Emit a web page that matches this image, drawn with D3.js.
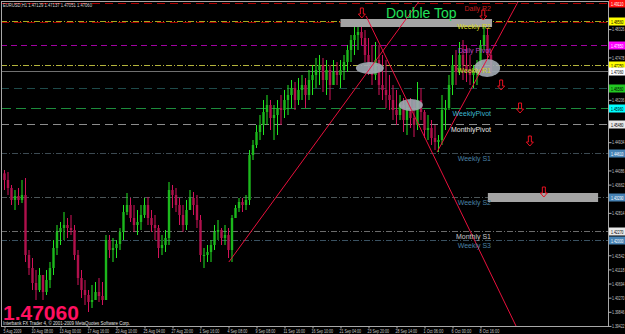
<!DOCTYPE html>
<html>
<head>
<meta charset="utf-8">
<script src="https://cdn.jsdelivr.net/npm/d3@7"></script>
<style>
html, body { margin: 0; padding: 0; background: #000; }
svg { display: block; font-family: Arial, "Liberation Sans", sans-serif; }
</style>
</head>
<body>
<svg width="625" height="334"></svg>
<script>
// EURUSD, bars of 8 hours
const firstOpen = 1.4400;
const highs = [
    1.4410,1.4404,1.4365,1.4350,1.4356,1.4380,1.4386,1.4170,1.4146,1.4110,
    1.4116,1.4095,1.4110,1.4134,1.4200,1.4245,1.4254,1.4284,1.4266,1.4275,
    1.4245,1.4170,1.4110,1.4080,1.4050,1.4065,1.4074,1.4086,1.4074,1.4215,
    1.4215,1.4206,1.4200,1.4236,1.4305,1.4341,1.4326,1.4305,1.4290,1.4305,
    1.4326,1.4329,1.4290,1.4275,1.4245,1.4215,1.4230,1.4374,1.4365,1.4356,
    1.4326,1.4305,1.4320,1.4350,1.4344,1.4335,1.4275,1.4176,1.4185,1.4200,
    1.4245,1.4260,1.4236,1.4245,1.4236,1.4275,1.4305,1.4326,1.4326,1.4335,
    1.4470,1.4500,1.4545,1.4575,1.4620,1.4635,1.4620,1.4605,1.4620,1.4635,
    1.4650,1.4665,1.4680,1.4674,1.4686,1.4695,1.4686,1.4710,1.4725,1.4746,
    1.4755,1.4746,1.4740,1.4725,1.4740,1.4734,1.4740,1.4755,1.4785,1.4815,
    1.4839,1.4845,1.4857,1.4830,1.4806,1.4785,1.4794,1.4785,1.4755,1.4740,
    1.4695,1.4665,1.4650,1.4635,1.4626,1.4620,1.4626,1.4620,1.4674,1.4656,
    1.4590,1.4575,1.4560,1.4545,1.4515,1.4635,1.4620,1.4695,1.4755,1.4770,
    1.4794,1.4800,1.4785,1.4755,1.4725,1.4740,1.4800,1.4854,1.4836,1.4770
];
const lows = [
    1.4350,1.4335,1.4305,1.4290,1.4305,1.4311,1.4134,1.4095,1.4050,1.4020,
    1.4044,1.4020,1.4035,1.4056,1.4095,1.4155,1.4185,1.4200,1.4206,1.4215,
    1.4140,1.4065,1.4026,1.4005,1.3984,1.3996,1.4020,1.4014,1.4005,1.4020,
    1.4146,1.4134,1.4146,1.4170,1.4200,1.4275,1.4254,1.4224,1.4215,1.4230,
    1.4266,1.4245,1.4224,1.4200,1.4146,1.4155,1.4164,1.4185,1.4296,1.4284,
    1.4245,1.4224,1.4230,1.4290,1.4275,1.4236,1.4134,1.4116,1.4134,1.4134,
    1.4170,1.4200,1.4185,1.4185,1.4146,1.4134,1.4266,1.4284,1.4284,1.4290,
    1.4305,1.4440,1.4476,1.4500,1.4515,1.4545,1.4530,1.4500,1.4515,1.4545,
    1.4566,1.4575,1.4596,1.4590,1.4605,1.4620,1.4596,1.4620,1.4635,1.4656,
    1.4665,1.4644,1.4635,1.4620,1.4674,1.4665,1.4656,1.4680,1.4704,1.4734,
    1.4755,1.4770,1.4785,1.4734,1.4695,1.4665,1.4680,1.4635,1.4620,1.4596,
    1.4590,1.4560,1.4545,1.4560,1.4524,1.4515,1.4536,1.4509,1.4530,1.4560,
    1.4506,1.4500,1.4485,1.4470,1.4464,1.4485,1.4530,1.4590,1.4635,1.4665,
    1.4695,1.4680,1.4674,1.4665,1.4656,1.4665,1.4710,1.4770,1.4740,1.4695
];
const closes = [
    1.4380,1.4356,1.4320,1.4332,1.4320,1.4335,1.4155,1.4116,1.4071,1.4050,
    1.4095,1.4044,1.4080,1.4116,1.4176,1.4224,1.4236,1.4245,1.4236,1.4230,
    1.4155,1.4086,1.4050,1.4035,1.4014,1.4020,1.4044,1.4032,1.4020,1.4200,
    1.4170,1.4176,1.4188,1.4224,1.4284,1.4305,1.4266,1.4245,1.4254,1.4275,
    1.4305,1.4266,1.4245,1.4236,1.4176,1.4185,1.4206,1.4350,1.4335,1.4305,
    1.4275,1.4245,1.4290,1.4326,1.4305,1.4260,1.4155,1.4155,1.4164,1.4185,
    1.4224,1.4230,1.4206,1.4215,1.4170,1.4266,1.4296,1.4314,1.4305,1.4320,
    1.4455,1.4485,1.4524,1.4545,1.4584,1.4605,1.4566,1.4575,1.4596,1.4590,
    1.4620,1.4635,1.4656,1.4620,1.4650,1.4665,1.4635,1.4680,1.4695,1.4710,
    1.4725,1.4680,1.4710,1.4665,1.4704,1.4695,1.4710,1.4734,1.4770,1.4800,
    1.4815,1.4824,1.4806,1.4755,1.4725,1.4695,1.4740,1.4665,1.4650,1.4635,
    1.4620,1.4590,1.4575,1.4605,1.4560,1.4590,1.4566,1.4545,1.4620,1.4584,
    1.4530,1.4536,1.4506,1.4494,1.4500,1.4590,1.4596,1.4665,1.4725,1.4704,
    1.4755,1.4725,1.4710,1.4695,1.4704,1.4716,1.4785,1.4815,1.4755,1.4706
];

const symbol = "EURUSD,H1";
const lastQuote = [1.47129, 1.47137, 1.47051, 1.47060];

const timeLabels = ["5 Aug 2009", "10 Aug 08:00", "13 Aug 00:00", "17 Aug 16:00", "20 Aug 10:00",
    "25 Aug 04:00", "27 Aug 20:00", "1 Sep 16:00", "4 Sep 08:00", "9 Sep 08:00", "11 Sep 16:00",
    "16 Sep 10:00", "21 Sep 04:00", "23 Sep 20:00", "28 Sep 14:00", "1 Oct 06:00", "6 Oct 00:00",
    "8 Oct 16:00"];
const barsPerLabel = 8;

const priceTicks = [1.48750, 1.48326, 1.47902, 1.47478, 1.47054, 1.46630, 1.46206, 1.45782,
    1.45358, 1.44934, 1.44510, 1.44086, 1.43662, 1.43238, 1.42814, 1.42390, 1.41966, 1.41542,
    1.41118, 1.40694, 1.40270, 1.39846, 1.39422];

// pivot levels
const levelNames = ["Daily R2", "Daily R1", "Weekly R2", "Daily Pivot", "Weekly R1", "Daily S1",
    "WeeklyPivot", "MonthlyPivot", "Weekly S1", "Weekly S2", "Monthly S1", "Weekly S3"];
const levelValues = [1.4911, 1.4854, 1.4856, 1.4785, 1.4725, 1.4656, 1.4596, 1.4548, 1.4461,
    1.4329, 1.4227, 1.4200];

// hand drawn objects (bar index, price)
const zoneStart = [96, 138.1];
const zoneEnd = [139.3, 169.6];
const zoneHigh = [1.4863, 1.4341];
const zoneLow = [1.4839, 1.4314];

const ellipseBar = [104.4, 116.1, 137.9];
const ellipsePrice = [1.4716, 1.4605, 1.4716];

const trendFromBar = [64.1, 103.3, 123.6];
const trendFromPrice = [1.4134, 1.4872, 1.4464];
const trendToBar = [118.7, 146.7, 147];
const trendToPrice = [1.4920, 1.3930, 1.4920];

const arrowBar = [102.1, 136.8, 141.9, 147.3, 150.1, 154.1];
const arrowPrice = [1.4866, 1.4860, 1.4650, 1.4581, 1.4482, 1.4329];

const noteText = "Double Top";
const noteBar = 109;
const notePrice = 1.4866;

// styles
const plot = { left: 1, top: 1, right: 608, bottom: 326 };
const upColor = "#22e622";
const downColor = "#d3125a";
const trendColor = "#e8103c";
const ellipseRx = [14, 12, 13];
const ellipseRy = [6, 6, 9];
const levelStyle = {
    "Daily R2":     { stroke: "#b00000", dash: "8 5", text: "#c81e1e", box: "#ff1010", boxText: "#fff" },
    "Daily R1":     { stroke: "#a00000", dash: "8 5", text: null, box: null },
    "Weekly R2":    { stroke: "#a8a81e", dash: "6 2 1 2", text: "#d8d820", box: "#ffff00", boxText: "#000" },
    "Daily Pivot":  { stroke: "#a000a0", dash: "6 4", text: "#c040c8", box: "#ff00ff", boxText: "#fff" },
    "Weekly R1":    { stroke: "#b4b43c", dash: "6 2 1 2", text: "#d0d028", box: "#ffff00", boxText: "#000" },
    "Daily S1":     { stroke: "#1e4a4a", dash: "8 5", text: null, box: "#22c822", boxText: "#000" },
    "WeeklyPivot":  { stroke: "#1c8c3c", dash: "10 5", text: "#3cb8d0", box: "#00ffff", boxText: "#000" },
    "MonthlyPivot": { stroke: "#8c8c8c", dash: "8 5", text: "#e6e6e6", box: "#e8e8e8", boxText: "#000" },
    "Weekly S1":    { stroke: "#3c4a52", dash: "6 2 1 2", text: "#4a80a4", box: "#4682b4", boxText: "#fff" },
    "Weekly S2":    { stroke: "#4c5658", dash: "6 2 1 2", text: "#4a80a4", box: "#4682b4", boxText: "#fff" },
    "Monthly S1":   { stroke: "#6c6c6c", dash: "6 2 1 2", text: "#c8c8c8", box: "#e8e8e8", boxText: "#000" },
    "Weekly S3":    { stroke: "#3a5262", dash: "6 2 1 2", text: "#4a80a4", box: "#4682b4", boxText: "#fff" }
};

const x = d3.scaleLinear([0, 172], [4.5, 606.5]);
const y = d3.scaleLinear([1.392, 1.492], [1000 / 3, 0]);
const fmt5 = d3.format(".5f");
const lastClose = closes[closes.length - 1];

// prices that get a coloured box on the price scale
const boxedValues = levelNames
    .map((name, i) => ({ name, v: levelValues[i] }))
    .filter(d => levelStyle[d.name].box)
    .concat([{ name: "bid", v: lastClose }]);

const svg = d3.select("svg");

svg.append("defs").append("clipPath").attr("id", "plot-clip")
    .append("rect")
    .attr("x", plot.left).attr("y", plot.top)
    .attr("width", plot.right - plot.left).attr("height", plot.bottom - plot.top);

svg.append("rect").attr("width", 625).attr("height", 334).attr("fill", "#000");

const levelLines = selection => {
    const g = selection.append("g").attr("clip-path", "url(#plot-clip)");
    g.selectAll("line")
        .data(levelNames.map((name, i) => ({ name, v: levelValues[i] })))
        .join("line")
        .attr("x1", plot.left).attr("x2", plot.right)
        .attr("y1", d => Math.round(y(d.v)) + 0.5).attr("y2", d => Math.round(y(d.v)) + 0.5)
        .attr("stroke", d => levelStyle[d.name].stroke)
        .attr("stroke-dasharray", d => levelStyle[d.name].dash);
    // bid line
    g.append("line")
        .attr("x1", plot.left).attr("x2", plot.right)
        .attr("y1", Math.round(y(lastClose)) + 0.5).attr("y2", Math.round(y(lastClose)) + 0.5)
        .attr("stroke", "#707070");
}

const candles = selection => {
    const bars = closes.map((c, i) => ({
        i, c, h: highs[i], l: lows[i], o: i ? closes[i - 1] : firstOpen
    }));
    const g = selection.append("g").attr("clip-path", "url(#plot-clip)");
    g.selectAll("line")
        .data(bars)
        .join("line")
        .attr("x1", d => x(d.i)).attr("x2", d => x(d.i))
        .attr("y1", d => y(Math.max(d.h, d.o, d.c)))
        .attr("y2", d => y(Math.min(d.l, d.o, d.c)))
        .attr("stroke", d => d.c >= d.o ? upColor : downColor);
    g.selectAll("rect")
        .data(bars)
        .join("rect")
        .attr("x", d => x(d.i) - 1.2)
        .attr("width", 2.4)
        .attr("y", d => y(Math.max(d.o, d.c)))
        .attr("height", d => Math.max(1, Math.abs(y(d.o) - y(d.c))))
        .attr("fill", d => d.c >= d.o ? "#1cb81c" : "#b0104c");
}

const zones = selection => {
    selection.append("g").attr("clip-path", "url(#plot-clip)")
        .selectAll("rect")
        .data(zoneStart.map((s, i) => i))
        .join("rect")
        .attr("x", i => x(zoneStart[i]))
        .attr("width", i => x(zoneEnd[i]) - x(zoneStart[i]))
        .attr("y", i => y(zoneHigh[i]))
        .attr("height", i => y(zoneLow[i]) - y(zoneHigh[i]))
        .attr("fill", "#a4a4a4");
}

const ellipses = selection => {
    selection.append("g")
        .selectAll("ellipse")
        .data(ellipseBar.map((b, i) => i))
        .join("ellipse")
        .attr("cx", i => x(ellipseBar[i]))
        .attr("cy", i => y(ellipsePrice[i]))
        .attr("rx", i => ellipseRx[i])
        .attr("ry", i => ellipseRy[i])
        .attr("fill", "#a2abb4")
        .attr("fill-opacity", 0.9);
}

const trendLines = selection => {
    selection.append("g").attr("clip-path", "url(#plot-clip)")
        .selectAll("line")
        .data(trendFromBar.map((b, i) => i))
        .join("line")
        .attr("x1", i => x(trendFromBar[i])).attr("y1", i => y(trendFromPrice[i]))
        .attr("x2", i => x(trendToBar[i])).attr("y2", i => y(trendToPrice[i]))
        .attr("stroke", trendColor)
        .attr("stroke-width", 1);
}

const arrows = selection => {
    selection.append("g")
        .selectAll("path")
        .data(arrowBar.map((b, i) => i))
        .join("path")
        .attr("transform", i => `translate(${x(arrowBar[i])},${y(arrowPrice[i])})`)
        .attr("d", "M0,0 L-3.5,-4 L-1.5,-4 L-1.5,-10 L1.5,-10 L1.5,-4 L3.5,-4 Z")
        .attr("fill", "none")
        .attr("stroke", "#e81020")
        .attr("stroke-width", 1);
}

const levelTexts = selection => {
    selection.append("g")
        .selectAll("text")
        .data(levelNames.map((name, i) => ({ name, v: levelValues[i] })).filter(d => levelStyle[d.name].text))
        .join("text")
        .attr("x", x(139))
        .attr("y", d => y(d.v) + 7.5)
        .attr("text-anchor", "end")
        .attr("font-size", 7)
        .attr("fill", d => levelStyle[d.name].text)
        .text(d => d.name);
}

const note = selection => {
    selection.append("text")
        .attr("x", x(noteBar))
        .attr("y", y(notePrice))
        .attr("font-size", 14)
        .attr("fill", "#22e05a")
        .text(noteText);
}

const frame = selection => {
    selection.append("rect")
        .attr("x", plot.left + 0.5).attr("y", plot.top + 0.5)
        .attr("width", plot.right - plot.left).attr("height", plot.bottom - plot.top)
        .attr("fill", "none")
        .attr("stroke", "#a8a8a8");
}

const priceAxis = selection => {
    // tick labels hidden under a coloured level box are not drawn, as on the terminal
    const visibleTicks = priceTicks.filter(t =>
        boxedValues.every(b => Math.abs(y(b.v) - y(t)) > 7));
    const axis = d3.axisRight(y).tickValues(visibleTicks).tickSize(3).tickFormat(fmt5);
    selection.append("g")
        .attr("transform", `translate(${plot.right + 0.5},0)`)
        .call(axis)
        .call(g => g.select(".domain").remove())
        .call(g => g.selectAll("line").attr("stroke", "#b0b0b0"))
        .call(g => g.selectAll("text")
            .attr("x", 3.5)
            .attr("fill", "#c4c4c4")
            .attr("font-family", "Arial, sans-serif")
            .attr("font-size", 5.5)
            .attr("textLength", 12.5)
            .attr("lengthAdjust", "spacingAndGlyphs"));
}

const timeAxis = selection => {
    const axis = d3.axisBottom(x)
        .tickValues(timeLabels.map((t, i) => i * barsPerLabel))
        .tickSize(2)
        .tickFormat((d, i) => timeLabels[i]);
    selection.append("g")
        .attr("transform", `translate(0,${plot.bottom + 0.5})`)
        .call(axis)
        .call(g => g.select(".domain").remove())
        .call(g => g.selectAll("line").attr("stroke", "#b0b0b0"))
        .call(g => g.selectAll("text")
            .attr("text-anchor", "start")
            .attr("x", -1.5)
            .attr("y", 2.2)
            .attr("fill", "#c8c8c8")
            .attr("font-family", "Arial, sans-serif")
            .attr("font-size", 5.5)
            .attr("textLength", (d, i) => timeLabels[i].length * 1.8)
            .attr("lengthAdjust", "spacingAndGlyphs"));
}

const levelBoxes = selection => {
    const styleOf = d => d.name === "bid" ? { box: "#ffffff", boxText: "#000" } : levelStyle[d.name];
    const g = selection.append("g").selectAll("g")
        .data(boxedValues)
        .join("g")
        .attr("transform", d => `translate(${plot.right + 1},${Math.round(y(d.v)) - 3.5})`);
    g.append("rect")
        .attr("width", 16).attr("height", 8)
        .attr("fill", d => styleOf(d).box);
    g.append("text")
        .attr("x", 2).attr("y", 6)
        .attr("font-size", 5.5)
        .attr("fill", d => styleOf(d).boxText)
        .attr("textLength", 12.5)
        .attr("lengthAdjust", "spacingAndGlyphs")
        .text(d => fmt5(d.v));
}

const captions = selection => {
    const header = symbol + "  " + lastQuote.map(fmt5).join(" ");
    selection.append("text")
        .attr("x", 3).attr("y", 7)
        .attr("font-size", 5.5)
        .attr("fill", "#d4d4d4")
        .attr("textLength", 89)
        .attr("lengthAdjust", "spacingAndGlyphs")
        .text(header);
    selection.append("text")
        .attr("x", 3).attr("y", 320)
        .attr("font-size", 21)
        .attr("font-weight", "bold")
        .attr("fill", "#ff1060")
        .text(fmt5(lastClose));
    selection.append("text")
        .attr("x", 3).attr("y", 324.6)
        .attr("font-size", 5)
        .attr("fill", "#e0e0e0")
        .attr("textLength", 127)
        .attr("lengthAdjust", "spacingAndGlyphs")
        .text("Interbank FX Trader 4, \u00a9 2001-2009 MetaQuotes Software Corp.");
}

svg
    .call(levelLines)
    .call(candles)
    .call(zones)
    .call(ellipses)
    .call(trendLines)
    .call(arrows)
    .call(levelTexts)
    .call(note)
    .call(frame)
    .call(priceAxis)
    .call(timeAxis)
    .call(levelBoxes)
    .call(captions);
</script>
</body>
</html>
